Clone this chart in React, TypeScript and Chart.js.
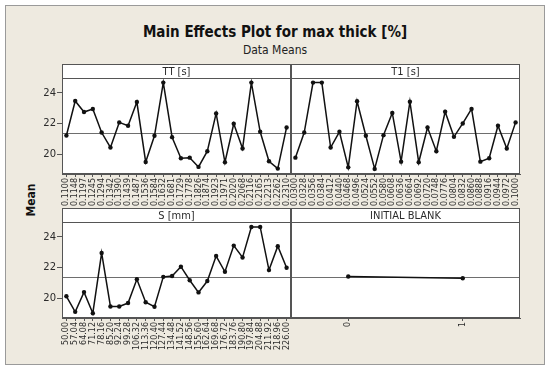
import React, { useEffect, useRef } from "react";
import { Chart, registerables } from "chart.js";

Chart.register(...registerables);

// ---------- data ----------
const TT_LEVELS = ["0.1100", "0.1148", "0.1197", "0.1245", "0.1294", "0.1342", "0.1390", "0.1439", "0.1487", "0.1536", "0.1584", "0.1632", "0.1681", "0.1729", "0.1778", "0.1826", "0.1874", "0.1923", "0.1971", "0.2020", "0.2068", "0.2116", "0.2165", "0.2213", "0.2262", "0.2310"];
const TT_MEANS = [21.24, 23.48, 22.76, 22.96, 21.43, 20.46, 22.09, 21.87, 23.41, 19.52, 21.22, 24.67, 21.13, 19.76, 19.8, 19.2, 20.22, 22.67, 19.5, 22.0, 20.39, 24.67, 21.48, 19.57, 19.09, 21.76];

const T1_LEVELS = ["0.0300", "0.0328", "0.0356", "0.0384", "0.0412", "0.0440", "0.0468", "0.0496", "0.0524", "0.0552", "0.0580", "0.0608", "0.0636", "0.0664", "0.0692", "0.0720", "0.0748", "0.0776", "0.0804", "0.0832", "0.0860", "0.0888", "0.0916", "0.0944", "0.0972", "0.1000"];
const T1_MEANS = [19.8, 21.43, 24.67, 24.67, 20.46, 21.48, 19.17, 23.46, 21.22, 19.07, 21.26, 22.7, 19.54, 23.43, 19.5, 21.76, 20.22, 22.78, 21.15, 22.02, 22.96, 19.54, 19.76, 21.87, 20.39, 22.09];

const S_LEVELS = ["50.00", "57.04", "64.08", "71.12", "78.16", "85.20", "92.24", "99.28", "106.32", "113.36", "120.40", "127.44", "134.48", "141.52", "148.56", "155.60", "162.64", "169.68", "176.72", "183.76", "190.80", "197.84", "204.88", "211.92", "218.96", "226.00"];
const S_MEANS = [20.15, 19.14, 20.42, 19.05, 22.96, 19.49, 19.49, 19.71, 21.25, 19.76, 19.47, 21.41, 21.47, 22.07, 21.19, 20.4, 21.14, 22.76, 21.74, 23.44, 22.67, 24.65, 24.65, 21.85, 23.4, 22.0];

const IB_LEVELS = ["0", "1"];
const IB_MEANS = [21.43, 21.32];

const GRAND_MEAN = 21.38;
const Y_MIN = 18.74;
const Y_MAX = 24.97;
const Y_TICKS = [20, 22, 24];

// ---------- layout ----------
const W = 550;
const H = 372;
const FONT = "'DejaVu Sans', Verdana, sans-serif";
const FONT_C = "'DejaVu Sans Condensed', 'DejaVu Sans', sans-serif";
const LINE_COL = "#555555";
const TEXT_COL = "#2b2b2b";

type Panel = {
  title: string;
  labels: string[];
  values: number[];
  left: number;
  right: number;
  top: number;
  bottom: number;
  header: number;
  yAxis: boolean;
  tickFont: number;
};

const PANELS: Panel[] = [
  { title: "TT [s]", labels: TT_LEVELS, values: TT_MEANS, left: 62, right: 291, top: 78, bottom: 174, header: 14, yAxis: true, tickFont: 8 },
  { title: "T1 [s]", labels: T1_LEVELS, values: T1_MEANS, left: 291, right: 520, top: 78, bottom: 174, header: 14, yAxis: false, tickFont: 8 },
  { title: "S [mm]", labels: S_LEVELS, values: S_MEANS, left: 62, right: 291, top: 222, bottom: 318, header: 14, yAxis: true, tickFont: 8 },
  { title: "INITIAL BLANK", labels: IB_LEVELS, values: IB_MEANS, left: 291, right: 520, top: 222, bottom: 318, header: 14, yAxis: false, tickFont: 8 },
];

function decorPlugin(p: Panel) {
  return {
    id: "decor",
    beforeDatasetsDraw(chart: any) {
      const { ctx, chartArea, scales } = chart;
      const y = Math.round(scales.y.getPixelForValue(GRAND_MEAN)) + 0.5;
      ctx.save();
      ctx.strokeStyle = "#6e6e6e";
      ctx.lineWidth = 1;
      ctx.beginPath();
      ctx.moveTo(chartArea.left, y);
      ctx.lineTo(chartArea.right, y);
      ctx.stroke();
      ctx.restore();
    },
    beforeDraw(chart: any) {
      const { ctx, chartArea } = chart;
      ctx.save();
      ctx.fillStyle = "#ffffff";
      ctx.fillRect(chartArea.left, chartArea.top - p.header, chartArea.right - chartArea.left, chartArea.bottom - chartArea.top + p.header);
      ctx.restore();
    },
    afterDraw(chart: any) {
      const { ctx, chartArea } = chart;
      const l = Math.round(chartArea.left) + 0.5;
      const r = Math.round(chartArea.right) - 0.5;
      const t = Math.round(chartArea.top) + 0.5;
      const b = Math.round(chartArea.bottom) - 0.5;
      const ht = t - p.header;
      ctx.save();
      ctx.strokeStyle = LINE_COL;
      ctx.lineWidth = 1;
      ctx.strokeRect(l, t, r - l, b - t);
      ctx.strokeRect(l, ht, r - l, p.header);
      ctx.fillStyle = TEXT_COL;
      ctx.font = `11px ${FONT_C}`;
      ctx.textAlign = "center";
      ctx.textBaseline = "middle";
      ctx.fillText(p.title, (l + r) / 2, ht + p.header / 2 + 0.5);
      ctx.restore();
    },
  };
}

function makeConfig(p: Panel): any {
  const xAxisH = 40;
  const yAxisW = p.yAxis ? 62 : 0;
  return {
    type: "line",
    data: {
      labels: p.labels,
      datasets: [
        {
          data: p.values,
          borderColor: "#111111",
          borderWidth: 1.5,
          pointRadius: 2.2,
          pointBackgroundColor: "#111111",
          pointBorderWidth: 0,
          tension: 0,
          fill: false,
        },
      ],
    },
    options: {
      responsive: false,
      animation: false,
      events: [],
      layout: {
        autoPadding: false,
        padding: {
          left: p.left - yAxisW,
          right: W - p.right,
          top: p.top,
          bottom: H - p.bottom - xAxisH,
        },
      },
      plugins: {
        legend: { display: false },
        tooltip: { enabled: false },
        title: { display: false },
      },
      scales: {
        x: {
          type: "category",
          offset: true,
          grid: { display: true, drawOnChartArea: false, drawTicks: true, tickLength: 3, color: LINE_COL },
          border: { display: true, color: LINE_COL },
          ticks: {
            autoSkip: false,
            maxRotation: 90,
            minRotation: 90,
            padding: 1,
            color: TEXT_COL,
            font: { family: FONT, size: p.tickFont },
          },
          afterFit: (s: any) => {
            s.height = xAxisH;
          },
        },
        y: {
          display: p.yAxis,
          min: Y_MIN,
          max: Y_MAX,
          afterBuildTicks: (s: any) => {
            s.ticks = Y_TICKS.map((v) => ({ value: v }));
          },
          grid: { display: true, drawOnChartArea: false, drawTicks: true, tickLength: 5, color: LINE_COL },
          border: { display: true, color: LINE_COL },
          ticks: {
            padding: 1,
            color: TEXT_COL,
            font: { family: FONT, size: 10 },
          },
          afterFit: (s: any) => {
            s.width = yAxisW;
          },
        },
      },
    },
    plugins: [decorPlugin(p)],
  };
}

function PanelChart({ p }: { p: Panel }) {
  const ref = useRef<HTMLCanvasElement | null>(null);
  useEffect(() => {
    if (!ref.current) return;
    const chart = new Chart(ref.current, makeConfig(p));
    return () => chart.destroy();
  }, [p]);
  return <canvas ref={ref} width={W} height={H} style={{ position: "absolute", left: 0, top: 0, width: W, height: H }} />;
}

export default function App() {
  return (
    <div style={{ position: "fixed", left: 0, top: 0, width: W, height: H, background: "#ffffff", overflow: "hidden" }}>
      <div
        style={{
          position: "absolute",
          left: 5,
          top: 5,
          width: 538,
          height: 358,
          background: "#EEEAE0",
          border: "1px solid #9a9a9a",
        }}
      />
      <div
        style={{
          position: "absolute",
          left: 0,
          width: W,
          top: 23,
          textAlign: "center",
          fontFamily: FONT_C,
          fontWeight: "bold",
          fontSize: 15,
          lineHeight: "18px",
          color: "#111",
        }}
      >
        Main Effects Plot for max thick [%]
      </div>
      <div
        style={{
          position: "absolute",
          left: 0,
          width: W,
          top: 43,
          textAlign: "center",
          fontFamily: FONT_C,
          fontSize: 12,
          lineHeight: "15px",
          color: "#222",
        }}
      >
        Data Means
      </div>
      <div
        style={{
          position: "absolute",
          left: 31 - 30,
          top: 200 - 8,
          width: 60,
          height: 16,
          lineHeight: "16px",
          textAlign: "center",
          transform: "rotate(-90deg)",
          fontFamily: FONT_C,
          fontWeight: "bold",
          fontSize: 12,
          color: "#111",
        }}
      >
        Mean
      </div>
      {PANELS.map((p) => (
        <PanelChart key={p.title} p={p} />
      ))}
    </div>
  );
}
